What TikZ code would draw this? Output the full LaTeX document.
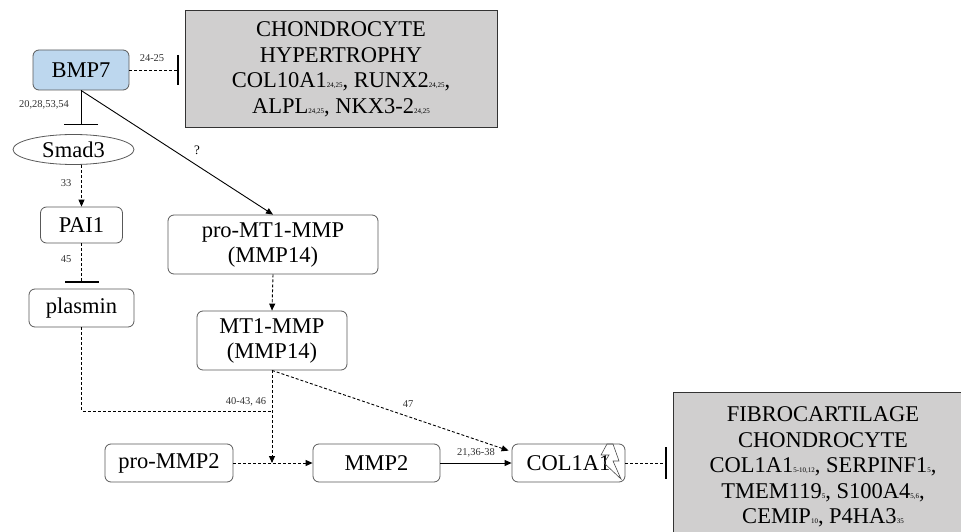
\documentclass[tikz,border=0pt]{standalone}
\usepackage{fontspec}
\setmainfont{Liberation Serif}
\usetikzlibrary{arrows.meta,shapes.geometric,calc}
\definecolor{bmpblue}{RGB}{189,215,238}
\definecolor{boxgray}{RGB}{208,207,207}
\newcommand{\rf}[1]{{\fontsize{7}{7}\selectfont #1}}
\begin{document}
\begin{tikzpicture}[x=1pt,y=-1pt,
  box/.style={draw=black!65,rounded corners=6pt,font=\fontsize{22.5}{25}\selectfont,align=center,inner sep=0pt,line width=0.8pt},
  graybox/.style={draw=black!80,fill=boxgray,font=\fontsize{22.5}{25.5}\selectfont,align=center,inner sep=0pt,line width=1pt},
  lab/.style={font=\fontsize{10.5}{11}\selectfont,inner sep=0pt,text=black!80},
  dsh/.style={dash pattern=on 3pt off 2pt,line width=0.9pt},
  sol/.style={line width=0.9pt},
  arr/.style={-{Triangle[length=7pt,width=6pt]}},
  inh/.style={-{Bar[width=#1,line width=1.4pt]}}]
\path[use as bounding box] (0,0) rectangle (961,532);
\clip (0,0) rectangle (961,532);

% nodes
\node[box,fill=bmpblue,minimum width=96pt,minimum height=40pt] (bmp7) at (81,70) {BMP7};
\node[graybox,minimum width=312pt,minimum height=117pt] (hyp) at (341,69.5)
  {CHONDROCYTE\\HYPERTROPHY\\COL10A1\rf{24,25}, RUNX2\rf{24,25},\\ALPL\rf{24,25}, NKX3-2\rf{24,25}};
\node[ellipse,draw=black!65,line width=0.8pt,inner sep=0pt,minimum width=121pt,minimum height=30pt,font=\fontsize{22.5}{25}\selectfont] (smad) at (73.5,149.5) {Smad3};
\node[box,minimum width=82pt,minimum height=36pt] (pai) at (81.5,225) {PAI1};
\node[box,minimum width=105pt,minimum height=38pt] (plasmin) at (81.5,308) {plasmin};
\node[box,minimum width=210pt,minimum height=59pt] (promt) at (273,244.5) {pro-MT1-MMP\\(MMP14)};
\node[box,minimum width=150pt,minimum height=59pt] (mt) at (272,340.5) {MT1-MMP\\(MMP14)};
\node[box,minimum width=128pt,minimum height=38pt] (promm) at (169,463) {pro-MMP2};
\node[box,minimum width=127pt,minimum height=38pt] (mmp) at (376.5,463) {MMP2};
\node[box,minimum width=113pt,minimum height=38pt] (col) at (568.5,463) {COL1A1};
\node[graybox,minimum width=300pt,minimum height=150pt] (fib) at (823,467)
  {FIBROCARTILAGE\\CHONDROCYTE\\COL1A1\rf{5-10,12}, SERPINF1\rf{5},\\TMEM119\rf{5}, S100A4\rf{5,6},\\CEMIP\rf{10}, P4HA3\rf{35}};

% lightning bolt on COL1A1
\draw[draw=black!70,line width=0.6pt,line join=miter] (607,444) -- (601,455) -- (609,455) -- (604,463) -- (621,479) -- (613,461) -- (619,461) -- (613,444) -- cycle;

% coordinates
\coordinate (junc) at (mt.south |- promm.east);
\coordinate (corner) at (plasmin.south |- 0,411);
\coordinate (joint) at (mt.south |- 0,411);

% connectors
\draw[dsh,inh=30pt,shorten >=6pt] (bmp7.east) -- (hyp.west |- bmp7.east);
\node[lab] at (152,58) {24-25};

\draw[sol,inh=34pt,shorten >=9pt] (bmp7.south) -- (bmp7.south |- smad.north);
\node[lab] at (44,105) {20,28,53,54};

\draw[dsh,arr] (pai.north |- smad.south) -- (pai.north);
\node[lab] at (66,183) {33};

\draw[dsh,inh=34pt,shorten >=6pt] (pai.south) -- (plasmin.north);
\node[lab] at (66,259) {45};

\draw[sol,arr] (bmp7.south) -- (promt.north);
\node[font=\fontsize{13}{14}\selectfont,inner sep=0pt] at (197,150) {?};

\draw[dsh,arr] (promt.south) -- (mt.north);

\draw[dsh] (plasmin.south) -- (corner) -- (joint);
\draw[dsh,arr] (mt.south) -- (junc);
\node[lab] at (246,402) {40-43, 46};

\draw[dsh,arr] (promm.east) -- (mmp.west);

\draw[dsh,arr] (mt.south) -- ($(col.north west)+(-3,7)$);
\node[lab] at (408,404) {47};

\draw[sol,arr] (mmp.east) -- (col.west);
\node[lab] at (476,453) {21,36-38};

\draw[dsh,inh=32pt,shorten >=6pt] (col.east) -- (fib.west |- col.east);
\end{tikzpicture}
\end{document}
